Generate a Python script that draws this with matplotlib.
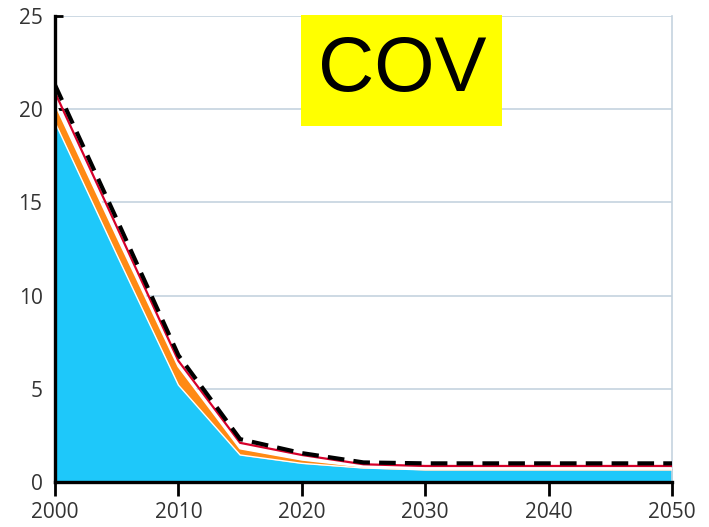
import matplotlib
matplotlib.use("Agg")
import matplotlib.pyplot as plt
from matplotlib.patches import Rectangle

years = [2000, 2005, 2010, 2015, 2020, 2025, 2030, 2035, 2040, 2045, 2050]
cyan_top = [19.3, 12.2, 5.2, 1.45, 1.0, 0.75, 0.65, 0.65, 0.65, 0.65, 0.65]
orange_top = [20.3, 13.2, 6.2, 1.8, 1.2, 0.82, 0.72, 0.72, 0.72, 0.72, 0.72]
red_line = [20.9, 13.7, 6.5, 2.1, 1.45, 0.95, 0.86, 0.86, 0.86, 0.86, 0.86]
dashed_line = [21.3, 14.1, 6.8, 2.3, 1.55, 1.05, 1.0, 1.0, 1.0, 1.0, 1.0]
yticks = [0, 5, 10, 15, 20, 25]
xticks = [2000, 2010, 2020, 2030, 2040, 2050]
label = "COV"

plt.rcParams['font.family'] = ['Open Sans', 'DejaVu Sans']

fig = plt.figure(figsize=(7.09, 5.27), dpi=100)
ax = fig.add_axes([55/709, 45/527, (672-55)/709, (482-16)/527])

ax.fill_between(years, 0, cyan_top, color='#1ec8fa', lw=0, zorder=2)
ax.fill_between(years, cyan_top, orange_top, color='#ff8a14', lw=0, zorder=2)
ax.plot(years, cyan_top, color='white', lw=1.0, zorder=3)
ax.plot(years, orange_top, color='white', lw=1.5, zorder=3)
ax.plot(years, red_line, color='#d6002a', lw=1.6, zorder=4)
ax.plot(years, dashed_line, color='black', lw=3.0, dashes=(4, 2.2), zorder=5)

ax.set_xlim(2000, 2050)
ax.set_ylim(0, 25)
ax.set_xticks(xticks)
ax.set_yticks(yticks)
ax.yaxis.grid(True, color='#c5d3df', lw=1.2, zorder=0)
ax.set_axisbelow(True)

for s in ['left', 'bottom']:
    ax.spines[s].set_color('black')
    ax.spines[s].set_linewidth(2.4)
    ax.spines[s].set_zorder(6)
ax.spines['right'].set_color('#c5d3df')
ax.spines['right'].set_linewidth(1.2)
ax.spines['top'].set_visible(False)

ax.tick_params(axis='x', direction='out', length=10, width=2, colors='black',
               labelcolor='#333333', labelsize=15, pad=4.5)
ax.tick_params(axis='y', direction='in', length=6, width=2, colors='black',
               labelcolor='#333333', labelsize=15, pad=9)

fig.patches.append(Rectangle((301/709, 1 - 126/527), (502-301)/709, (126-15)/527,
                             transform=fig.transFigure, facecolor='#ffff00',
                             edgecolor='none', zorder=10))
fig.text(402/709, 1 - 71/527, label, fontsize=56, family='Liberation Sans',
         ha='center', va='center', color='black', zorder=11)

fig.savefig('out.png', dpi=100)
